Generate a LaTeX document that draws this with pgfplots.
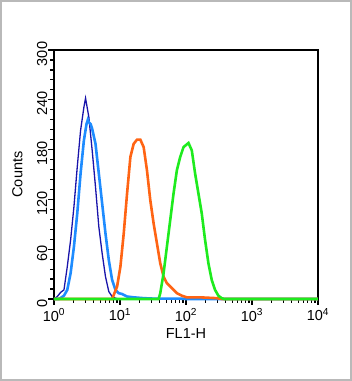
\documentclass[border=0pt]{standalone}
\usepackage{pgfplots}
\pgfplotsset{compat=1.18}
\usepackage{fontspec}
\setmainfont{Liberation Sans}
\definecolor{navyc}{RGB}{25,20,170}
\definecolor{lblue}{RGB}{30,140,255}
\definecolor{orng}{RGB}{255,100,20}
\definecolor{grn}{RGB}{30,235,30}
\definecolor{frm}{RGB}{185,185,185}
\begin{document}
\begin{tikzpicture}[x=1pt,y=1pt]
\begin{axis}[
  at={(0,0)}, anchor=south west,
  scale only axis, width=264pt, height=249pt,
  xmin=0, xmax=4, ymin=0, ymax=300,
  xtick={0,1,2,3,4},
  xticklabels={10\textsuperscript{0},10\textsuperscript{1},10\textsuperscript{2},10\textsuperscript{3},10\textsuperscript{4}},
  minor xtick={0.301,0.477,0.602,0.699,0.778,0.845,0.903,0.954,
               1.301,1.477,1.602,1.699,1.778,1.845,1.903,1.954,
               2.301,2.477,2.602,2.699,2.778,2.845,2.903,2.954,
               3.301,3.477,3.602,3.699,3.778,3.845,3.903,3.954},
  ytick={0,60,120,180,240,300},
  yticklabels={0,60,120,180,240,300},
  minor y tick num=4,
  tick pos=left, tick align=outside,
  major tick length=5.5pt, minor tick length=3.5pt,
  every tick/.style={black, line width=1.2pt},
  axis line style={line width=1.5pt},
  tick label style={font=\fontsize{14.5}{16}\selectfont},
  yticklabel style={rotate=90, anchor=south, inner sep=1pt, xshift=-4pt},
  xticklabel style={inner sep=1pt, yshift=-3pt},
  label style={font=\fontsize{14.5}{16}\selectfont},
  xlabel={FL1-H},
  ylabel={Counts},
  xlabel style={at={(axis description cs:0.5,0)}, anchor=north, yshift=-26pt},
  ylabel style={at={(axis description cs:0,0.5)}, anchor=south, rotate=0, yshift=28pt},
  clip=false,
]
\addplot[navyc, line width=1.3pt] coordinates {
(0,0) (0.0503,3) (0.1006,8) (0.151,11) (0.2013,39) (0.2516,71) (0.3019,111) (0.3522,159) (0.4025,203) (0.4528,231) (0.478,242) (0.5283,219) (0.5786,179) (0.6289,135) (0.6792,87) (0.7296,55) (0.7799,27) (0.8302,9) (0.8805,3) (0.93,1) (0.98,0) (4,0)};
\addplot[lblue, line width=2.6pt] coordinates {
(0,0) (0.0755,0) (0.151,4) (0.2013,11) (0.2516,31) (0.3019,63) (0.3522,103) (0.4025,151) (0.4528,191) (0.4931,211) (0.5132,216) (0.5283,213) (0.5535,211) (0.5786,205) (0.6289,187) (0.6792,151) (0.7296,115) (0.7799,79) (0.8302,47) (0.8805,23) (0.9308,11) (0.9811,7) (1.0314,6) (1.1069,3) (1.2075,2) (1.3585,1) (1.5,0.5) (1.9,0.5) (2.0,0) (4,0)};
\addplot[orng, line width=2.6pt] coordinates {
(0,0) (0.88,0) (0.9057,5) (0.956,15) (1.0063,39) (1.0566,79) (1.1069,127) (1.1572,171) (1.2075,187) (1.2579,192) (1.3082,192) (1.3585,183) (1.4088,155) (1.4591,119) (1.5094,91) (1.5597,67) (1.6101,43) (1.6604,27) (1.7107,19) (1.761,15) (1.8113,11) (1.8616,7) (1.9371,4) (2.0126,2) (2.2138,2) (2.4654,1) (2.5409,0) (4,0)};
\addplot[grn, line width=2.6pt] coordinates {
(0,0) (1.5849,0) (1.6101,7) (1.6604,31) (1.7107,63) (1.761,95) (1.8113,127) (1.8616,155) (1.9119,171) (1.9623,183) (2.0377,188) (2.0881,179) (2.1384,151) (2.1887,127) (2.239,103) (2.2893,71) (2.3396,43) (2.3899,23) (2.4403,11) (2.4906,4) (2.5409,1) (2.58,0) (4,0)};
\end{axis}
\draw[frm, line width=2pt] (-53,-81) rectangle (297,298);
\useasboundingbox (-54,-82) rectangle (298,299);
\end{tikzpicture}
\end{document}
